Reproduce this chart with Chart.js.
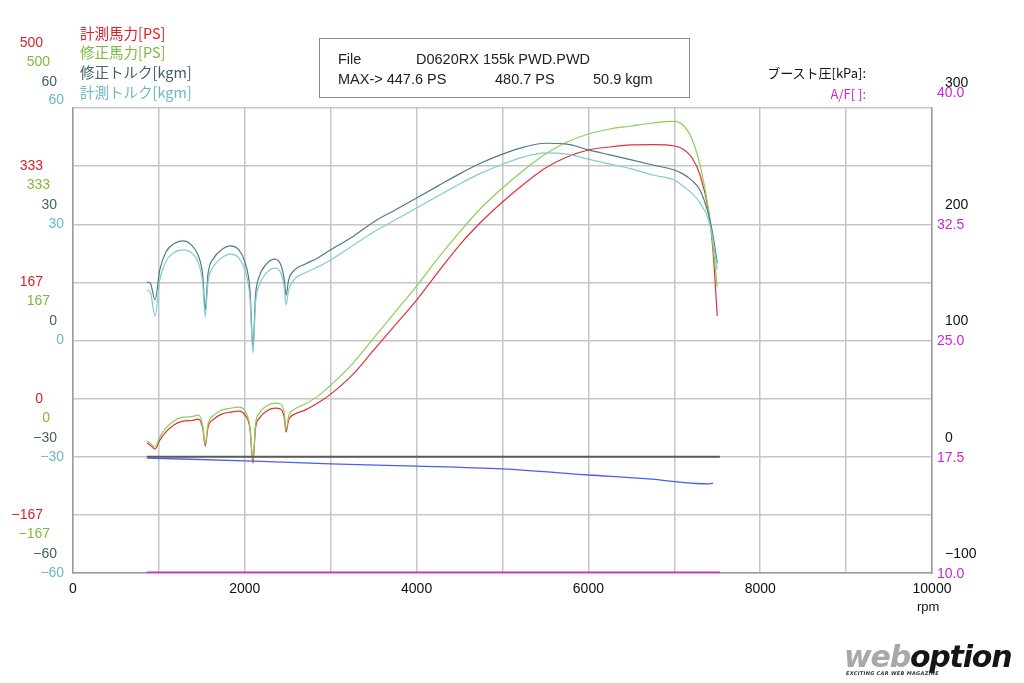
<!DOCTYPE html>
<html lang="ja">
<head>
<meta charset="utf-8">
<title>D0620RX 155k PWD</title>
<script src="https://cdn.jsdelivr.net/npm/chart.js@4.4.1/dist/chart.umd.min.js"></script>
<style>
  body { margin: 0; background: #fff; }
  #wrap { position: relative; width: 1024px; height: 683px; overflow: hidden; }
  .t { position: absolute; white-space: nowrap; line-height: 20px; font-size: 14.5px; font-family: "Noto Sans CJK JP", sans-serif; }
  .num { font-family: "Liberation Sans", Arial, sans-serif; }
  #box { position: absolute; left: 319px; top: 38px; width: 369px; height: 58px; border: 1px solid #8a8a8a; }
  #logo { position: absolute; left: 844px; top: 641px; font-family: "DejaVu Sans", sans-serif; font-weight: bold; font-style: italic; font-size: 30px; letter-spacing: -1.2px; line-height: 32px; }
  #tag { position: absolute; left: 846px; top: 670px; font-family: "DejaVu Sans", sans-serif; font-weight: bold; font-style: italic; font-size: 5px; color: #333; letter-spacing: 0.3px; }
</style>
</head>
<body>
<div id="wrap">
  <canvas id="grafico" width="1024" height="683"></canvas>

  <!-- legenda dos eixos da esquerda -->
  <div class="t" style="left:80px; top:23px; color:#dc1f26;">計測馬力[PS]</div>
  <div class="t" style="left:80px; top:42px; color:#7dbb3c;">修正馬力[PS]</div>
  <div class="t" style="left:80px; top:62px; color:#3f6068;">修正トルク[kgm]</div>
  <div class="t" style="left:80px; top:82px; color:#6ab8c4;">計測トルク[kgm]</div>

  <!-- quadro com o arquivo e os máximos -->
  <div id="box">
    <div class="t num" style="left:18px; top:10px; color:#222;">File</div>
    <div class="t num" style="left:96px; top:10px; color:#222;">D0620RX 155k PWD.PWD</div>
    <div class="t num" style="left:18px; top:30px; color:#222;">MAX-&gt; 447.6 PS</div>
    <div class="t num" style="left:175px; top:30px; color:#222;">480.7 PS</div>
    <div class="t num" style="left:273px; top:30px; color:#222;">50.9 kgm</div>
  </div>

  <!-- legenda dos eixos da direita -->
  <div class="t" style="right:158px; top:63px; font-size:13px; color:#111;">ブースト圧[kPa]:</div>
  <div class="t" style="right:158px; top:84px; font-size:13px; color:#d322d8;">A/F[ ]:</div>

  <div class="t num" style="left:917px; top:597px; font-size:13px; color:#111;">rpm</div>

  <div id="logo"><span style="color:#a8a8a8;">web</span><span style="color:#151515;">option</span></div>
  <div id="tag">EXCITING CAR WEB MAGAZINE</div>
</div>

<script>
// rotação (eixo X) comum às curvas de potência e torque
const rpm = [860, 900, 955, 1010, 1080, 1170, 1280, 1380, 1460, 1510,
  1540, 1570, 1640, 1730, 1830, 1930, 2000, 2060, 2095, 2125,
  2170, 2250, 2350, 2420, 2460, 2480, 2510, 2580, 2700, 2850,
  3000, 3250, 3500, 3750, 4000, 4250, 4500, 4750, 5000, 5250,
  5500, 5750, 6000, 6250, 6500, 6750, 7000, 7100, 7200, 7300,
  7400, 7450, 7500];

// 計測馬力 [PS]
const psMedido = [19.5, 16.6, 10.9, 23.8, 35.3, 45.3, 51.0, 52.0, 54.0, 41.0,
  15.2, 41.0, 53.9, 61.1, 63.9, 65.4, 60.0, 40.0, -9.2, 41.0,
  55.3, 65.4, 69.7, 68.0, 55.3, 35.3, 52.5, 61.1, 66.8, 76.9,
  89.8, 117.0, 152.9, 188.7, 224.6, 264.8, 303.5, 336.5, 365.2, 391.0,
  413.9, 429.7, 439.8, 444.1, 447.0, 447.6, 445.5, 441.2, 429.7, 403.9,
  350.8, 296.3, 201.6];

// 修正馬力 [PS]
const psCorrigido = [22.4, 19.5, 13.7, 28.1, 41.0, 51.0, 56.8, 57.5, 59.6, 45.0,
  18.0, 45.3, 59.6, 66.8, 69.5, 71.1, 66.0, 43.0, -4.9, 46.7,
  62.5, 72.5, 76.9, 75.4, 62.5, 38.1, 58.2, 68.2, 75.4, 86.9,
  102.7, 132.8, 170.1, 207.4, 244.7, 284.8, 322.1, 356.6, 385.2, 411.1,
  434.0, 451.2, 462.7, 469.9, 474.2, 478.5, 480.7, 475.6, 457.0, 418.2,
  353.7, 303.5, 243.2];

// 修正トルク [kgm]
const torqueCorrigido = [15.1, 14.8, 10.5, 18.2, 22.8, 24.9, 25.7, 24.6, 21.8, 16.9,
  7.9, 16.9, 21.3, 23.4, 24.4, 23.4, 20.3, 13.0, -1.7, 11.7,
  16.6, 19.7, 21.0, 19.5, 15.6, 11.7, 15.6, 18.2, 19.7, 21.3,
  23.4, 26.7, 30.6, 33.7, 36.8, 39.9, 43.0, 45.8, 48.1, 49.9,
  50.9, 50.7, 49.2, 47.9, 46.6, 45.3, 44.0, 43.0, 41.4, 38.8,
  32.4, 27.2, 20.0];

// 計測トルク [kgm]
const torqueMedido = [13.0, 12.5, 6.3, 15.6, 20.3, 22.6, 23.4, 22.6, 20.0, 14.8,
  6.1, 14.8, 19.2, 21.3, 22.3, 21.3, 18.2, 11.0, -3.2, 9.7,
  14.3, 17.4, 18.7, 17.4, 13.5, 9.2, 13.0, 15.9, 17.4, 19.0,
  20.8, 24.4, 28.0, 31.1, 34.2, 37.3, 40.4, 43.2, 45.5, 47.4,
  48.4, 48.1, 46.8, 45.5, 44.3, 42.7, 41.4, 39.9, 38.1, 35.5,
  31.1, 25.9, 18.2];

// linha azul (escala de pressão, kPa)
const rpmAzul = [860, 2100, 3000, 4000, 5000, 6000, 6700, 7250, 7400, 7450];
const linhaAzul = [-1.1, -3.7, -6.2, -8.0, -10.5, -15.7, -19.1, -23.0, -23.4, -22.6];

// ブースト圧 e A/F
const rpmSensores = [860, 7530];
const boost = [0, 0];
const razaoAF = [10.05, 10.05];

// rótulos dos eixos
const ticksPS = [-167, 0, 167, 333, 500];
const ticksTorque = [-60, -30, 0, 30, 60];
const ticksBoost = [-100, 0, 100, 200, 300];
const ticksAF = [10.0, 17.5, 25.0, 32.5, 40.0];
const ticksRpm = [0, 2000, 4000, 6000, 8000, 10000];

const pares = (xs, ys) => xs.map((x, i) => ({ x: x, y: ys[i] }));
const menos = n => String(n).replace('-', '\u2212'); // sinal de menos largo, como no original

const FONTE = { family: 'Liberation Sans, Arial, sans-serif', size: 14 };
const GRADE = '#c6c6c6';
const BORDA = '#9c9c9c';

// eixo Y sem grade, só com os rótulos deslocados
function eixoRotulos(pos, peso, largura, min, max, passo, cor, desloc, fmt) {
  return {
    position: pos,
    weight: peso,
    min: min,
    max: max,
    afterFit: s => { s.width = largura; },
    grid: { display: false, drawTicks: false },
    border: { display: false },
    ticks: {
      stepSize: passo,
      color: cor,
      font: FONTE,
      padding: pos === 'left' ? 9 : 5,
      labelOffset: desloc,
      autoSkip: false,
      callback: fmt
    }
  };
}

const rotPS = v => {
  const r = Math.round(v);
  return ticksPS.includes(r) ? menos(r) : '';
};
const rotTorque = v => ticksTorque.includes(v) ? menos(v) : '';

const eixos = {
  x: {
    type: 'linear',
    min: ticksRpm[0],
    max: ticksRpm[ticksRpm.length - 1],
    afterFit: s => { s.height = 30; },
    grid: { color: GRADE, lineWidth: 1.5, drawTicks: false },
    border: { color: BORDA, width: 1.5 },
    ticks: {
      stepSize: 1000,
      color: '#111',
      font: FONTE,
      padding: 8,
      autoSkip: false,
      maxRotation: 0,
      callback: v => ticksRpm.includes(v) ? String(v) : ''
    }
  },
  yTqM: {
    position: 'left',
    weight: 0,
    min: ticksTorque[0],
    max: ticksTorque[ticksTorque.length - 1],
    afterFit: s => { s.width = 7; },
    grid: { color: GRADE, lineWidth: 1.5, drawTicks: false },
    border: { color: BORDA, width: 1.5 },
    ticks: {
      stepSize: 15,
      color: '#6ab8c4',
      font: FONTE,
      padding: 9,
      autoSkip: false,
      callback: rotTorque
    }
  },
  yTq: eixoRotulos('left', 1, 7, ticksTorque[0], ticksTorque[4], 30, '#3f6068', -19, rotTorque),
  yPSc: eixoRotulos('left', 2, 7, -500 / 3, 500, 500 / 3, '#7dbb3c', -39, rotPS),
  yPS: eixoRotulos('left', 3, 52, -500 / 3, 500, 500 / 3, '#dc1f26', -58, rotPS),
  yAF: {
    position: 'right',
    weight: 0,
    min: ticksAF[0],
    max: ticksAF[4],
    afterFit: s => { s.width = 8; },
    grid: { display: false, drawTicks: false },
    border: { color: BORDA, width: 1.5 },
    ticks: {
      stepSize: 7.5,
      color: '#d322d8',
      font: FONTE,
      padding: 5,
      labelOffset: 1,
      autoSkip: false,
      callback: v => v.toFixed(1)
    }
  },
  yBoost: eixoRotulos('right', 1, 84, ticksBoost[0], ticksBoost[4], 100, '#111', -19,
    v => menos(v))
};

// os eixos estreitos cortariam os rótulos: alarga a área de recorte depois do layout
// e sobe um pouco o rótulo do topo, como no original
const ajusteTopo = { yPS: -7, yPSc: -7, yTq: -7, yTqM: -8, yBoost: -6, yAF: -16 };
const rotulos = {
  id: 'rotulos',
  afterLayout(chart) {
    Object.keys(ajusteTopo).forEach(id => {
      const s = chart.scales[id];
      if (s.position === 'left') s.left = 0;
      else s.right = chart.width;
    });
  },
  beforeDraw(chart) {
    Object.keys(ajusteTopo).forEach(id => {
      const itens = chart.scales[id].getLabelItems();
      if (!itens.length || itens._ok) return;
      itens[itens.length - 1].options.translation[1] += ajusteTopo[id];
      itens._ok = true;
    });
  }
};

const linha = (rot, dados, cor, eixo, larg, suave) => ({
  label: rot,
  data: dados,
  yAxisID: eixo,
  borderColor: cor,
  backgroundColor: cor,
  borderWidth: larg || 1.2,
  pointRadius: 0,
  cubicInterpolationMode: suave ? 'monotone' : 'default',
  tension: suave ? 0.4 : 0,
  fill: false
});

const ctx = document.getElementById('grafico').getContext('2d');

const grafico = new Chart(ctx, {
  type: 'line',
  data: {
    datasets: [
      linha('ブースト圧', pares(rpmSensores, boost), '#5a5a5a', 'yBoost', 2),
      linha('A/F', pares(rpmSensores, razaoAF), '#e020e0', 'yAF', 1.6),
      linha('azul', pares(rpmAzul, linhaAzul), '#4c5cf0', 'yBoost', 1.3, true),
      linha('計測トルク', pares(rpm, torqueMedido), '#80ccd2', 'yTqM', 1.2, true),
      linha('修正トルク', pares(rpm, torqueCorrigido), '#4f7b80', 'yTqM', 1.2, true),
      linha('修正馬力', pares(rpm, psCorrigido), '#8ad058', 'yPS', 1.2, true),
      linha('計測馬力', pares(rpm, psMedido), '#e2303a', 'yPS', 1.2, true)
    ]
  },
  options: {
    responsive: false,
    animation: false,
    layout: { padding: { top: 108, bottom: 80, left: 0, right: 0 } },
    scales: eixos,
    plugins: {
      legend: { display: false },
      tooltip: { enabled: false }
    }
  },
  plugins: [rotulos]
});
</script>
</body>
</html>
